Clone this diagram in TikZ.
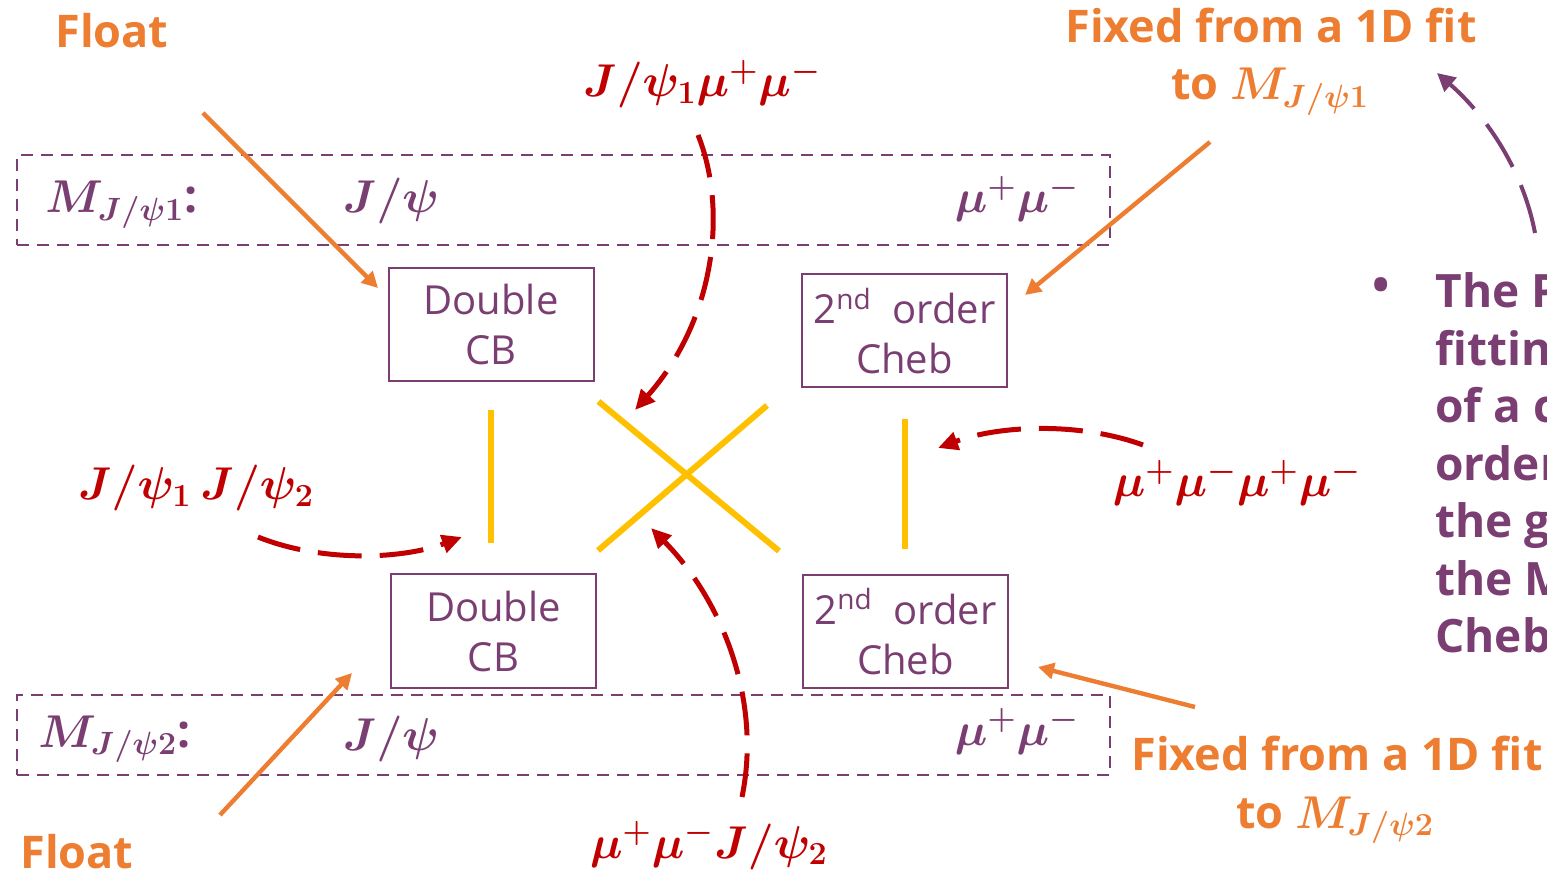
\RequirePackage{fix-cm}
\documentclass[tikz,border=0pt]{standalone}
\usepackage{amsmath,bm}
\usepackage{fontspec}
\setmainfont{Open Sans}
\usetikzlibrary{arrows.meta,positioning,calc}
\definecolor{plum}{HTML}{7A3E73}
\definecolor{orng}{HTML}{ED7D31}
\definecolor{gold}{HTML}{FFC000}
\definecolor{crimson}{HTML}{C00000}
\tikzset{
  fitbox/.style={draw=plum,fill=white,line width=1pt,minimum width=102.5pt,minimum height=56.5pt,
    inner sep=1pt,align=center,text=plum,font=\fontsize{20}{25}\selectfont},
  window/.style={draw=plum,line width=1pt,dash pattern=on 6pt off 4pt,minimum width=546.5pt,inner sep=0pt},
  corr/.style={draw=gold,line width=3pt},
  pin/.style={-{Triangle[length=8pt,width=8pt]},draw=orng,line width=2.2pt},
  feed/.style={-{Triangle[length=10pt,width=9pt]},draw=crimson,line width=2.5pt,
    dash pattern=on 22pt off 9pt},
  back/.style={-{Triangle[length=9pt,width=9pt]},draw=plum,line width=2pt,
    dash pattern=on 25pt off 10pt},
  note/.style={text=orng,inner sep=0pt,font=\bfseries\fontsize{22.5}{28}\selectfont},
  mlab/.style={text=plum,inner sep=0pt,font=\boldmath\fontsize{23}{28}\selectfont},
  rlab/.style={text=crimson,inner sep=0pt,font=\boldmath\fontsize{23}{28}\selectfont},
  bul/.style={text=plum,inner sep=0pt,font=\bfseries\fontsize{23}{28}\selectfont}
}
\newcommand{\fitvar}[1]{{\boldmath\fontsize{23}{28}\selectfont$M_{J/\psi#1}$}}
\begin{document}
\begin{tikzpicture}[x=0.5pt,y=-0.5pt]
  \useasboundingbox (0,0) rectangle (1547,876);
  % mass windows
  \node[window,minimum height=45pt] (win1) at (563.5,200) {};
  \node[window,minimum height=40pt] (win2) at (563.5,735) {};
  \node[mlab,anchor=base west] (m1) at (45,213) {$M_{J/\psi1}$\textbf{:}};
  \node[mlab,anchor=base] (jp1) at (391,213) {$J/\psi$};
  \node[mlab,anchor=base] (mm1) at (1017,213) {$\mu^{+}\mu^{-}$};
  \node[mlab,anchor=base west] (m2) at (38,747) {$M_{J/\psi2}$\textbf{:}};
  \node[mlab,anchor=base] (jp2) at (391,750) {$J/\psi$};
  \node[mlab,anchor=base] (mm2) at (1017,745) {$\mu^{+}\mu^{-}$};
  % component shapes
  \node[fitbox] (dcb1) at (491,325) {Double\\CB};
  \node[fitbox] (cheb1) at (904.5,331) {2\textsuperscript{nd}\ \ order\\Cheb};
  \node[fitbox] (dcb2) at (493.5,631) {Double\\CB};
  \node[fitbox] (cheb2) at (905.5,631.5) {2\textsuperscript{nd}\ \ order\\Cheb};
  % products
  \draw[corr,shorten <=14pt,shorten >=15pt] (dcb1.south) -- (dcb1.south |- dcb2.north);
  \draw[corr,shorten <=15.5pt,shorten >=12.5pt] (cheb1.south) -- (cheb1.south |- cheb2.north);
  \draw[corr] ($(dcb1.south east)+(4,19)$) -- ($(cheb2.north west)+(-23,-23)$);
  \draw[corr] ($(cheb1.south west)+(-34,17)$) -- ($(dcb2.north east)+(1,-23)$);
  % component labels
  \node[rlab,anchor=base] (sig1) at (702,97) {$J/\psi_{1}\mu^{+}\mu^{-}$};
  \node[rlab,anchor=base] (sig2) at (196,500) {$J/\psi_{1}\,J/\psi_{2}$};
  \node[rlab,anchor=base] (bkg) at (1237,497) {$\mu^{+}\mu^{-}\mu^{+}\mu^{-}$};
  \node[rlab,anchor=base] (sig3) at (709,858) {$\mu^{+}\mu^{-}J/\psi_{2}$};
  \coordinate (a1) at (698,135);  \coordinate (h1) at (635,410);
  \coordinate (a2) at (258,537);  \coordinate (h2) at (462,537);
  \coordinate (a3) at (1143,445); \coordinate (h3) at (938,448);
  \coordinate (a4) at (742,797);  \coordinate (h4) at (651,528);
  \draw[feed] (a1) .. controls (728,210) and (715,320) .. (h1);
  \draw[feed] (a2) .. controls (320,562) and (400,560) .. (h2);
  \draw[feed] (a3) .. controls (1080,422) and (1000,425) .. (h3);
  \draw[feed] (a4) .. controls (762,700) and (722,600) .. (h4);
  % parameter notes
  \node[note,anchor=base west] (fl1) at (55,48) {Float};
  \node[note,anchor=base west] (fl2) at (20,868) {Float};
  \node[note,anchor=base] (fx1) at (1271,43) {Fixed from a 1D fit};
  \node[note,anchor=base] (fx1b) at (1270,100) {to \fitvar{1}};
  \node[note,anchor=base] (fx2) at (1337,770) {Fixed from a 1D fit};
  \node[note,anchor=base] (fx2b) at (1335,828) {to \fitvar{2}};
  \coordinate (p1) at (203,113);  \coordinate (q1) at (378,288);
  \coordinate (p2) at (220,815);  \coordinate (q2) at (352,673);
  \coordinate (p3) at (1210,142); \coordinate (q3) at (1025,295);
  \coordinate (p4) at (1195,707); \coordinate (q4) at (1038,667);
  \foreach \a/\b in {p1/q1,p2/q2,p3/q3,p4/q4}{%
    \draw[pin] (\a) -- (\b);}
  % bullet text, cut by the page edge as in the slide
  \begin{scope}
    \clip (0,0) rectangle (1547,876);
    \node[bul] (dot) at (1381,290) {•};
    \foreach \ln [count=\i from 0] in {The P,fitting,of a c,order,the g,the M,Cheby}{%
      \node[bul,anchor=base west] (ln\i) at (1435,{308+57.5*\i}) {\ln};}
  \end{scope}
  \coordinate (r1) at (1535,233); \coordinate (r2) at (1437,73);
  \draw[back] (r1) .. controls (1522,165) and (1482,112) .. (r2);
\end{tikzpicture}
\end{document}
